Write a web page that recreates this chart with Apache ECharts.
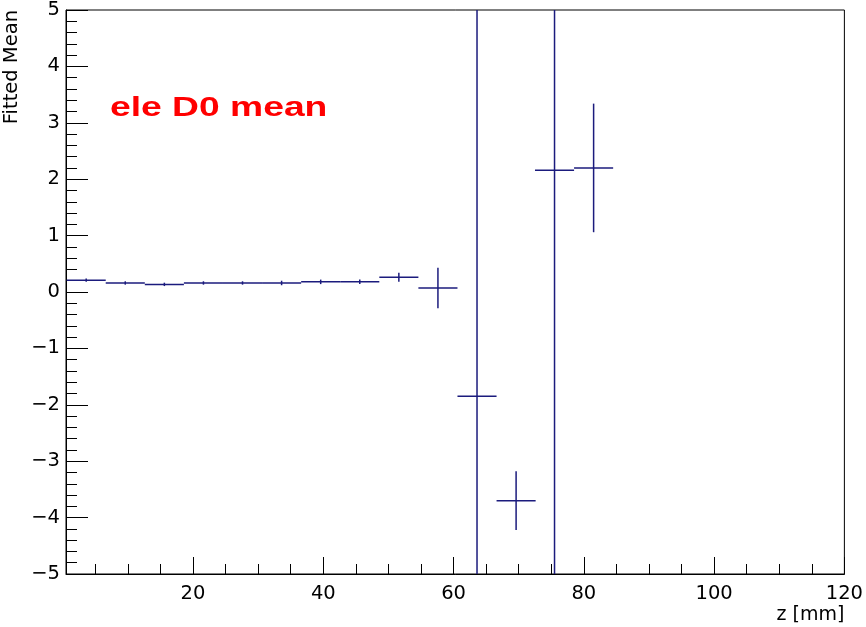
<!DOCTYPE html>
<html>
<head>
<meta charset="utf-8">
<script src="https://cdn.jsdelivr.net/npm/echarts@6/dist/echarts.min.js"></script>
<style>
html,body{margin:0;padding:0;background:#fff;}
#chart{width:866px;height:627px;}
</style>
</head>
<body>
<div id="chart"></div>
<script>
// ---- data ----
const xCenters   = [3.6, 9.6, 15.6, 21.6, 27.6, 33.6, 39.6, 45.6, 51.6, 57.6, 63.6, 69.6, 75.5, 81.5];
const xHalfWidth = [3, 3, 3, 3, 3, 3, 3, 3, 3, 3, 3, 3, 3, 3];
const fittedMean = [0.21, 0.16, 0.135, 0.16, 0.16, 0.16, 0.18, 0.18, 0.26, 0.07, -1.85, -3.70, 2.16, 2.20];
const meanError  = [0.03, 0.03, 0.03, 0.03, 0.03, 0.04, 0.04, 0.04, 0.08, 0.36, 9.0, 0.52, 9.0, 1.14];
const xMajorTicks = [20, 40, 60, 80, 100, 120];
const xMinorTicks = [5, 10, 15, 25, 30, 35, 45, 50, 55, 65, 70, 75, 85, 90, 95, 105, 110, 115];

const FONT = 'DejaVu Sans';
const LINE_COLOR = '#1b1b7d';

const seriesData = xCenters.map((x, i) => [x, fittedMean[i], xHalfWidth[i], meanError[i]]);

function clamp(v, a, b) { return Math.max(a, Math.min(b, v)); }

function renderItem(params, api) {
  const cs = params.coordSys;
  const x = api.value(0), y = api.value(1), hw = api.value(2), e = api.value(3);
  const l = api.coord([x - hw, y]);
  const r = api.coord([x + hw, y]);
  const t = api.coord([x, y + e]);
  const b = api.coord([x, y - e]);
  const x0 = cs.x, x1 = cs.x + cs.width, y0 = cs.y, y1 = cs.y + cs.height;
  const style = { stroke: LINE_COLOR, lineWidth: 1.5 };
  return {
    type: 'group',
    children: [
      { type: 'line', shape: { x1: clamp(l[0], x0, x1), y1: l[1], x2: clamp(r[0], x0, x1), y2: r[1] }, style: style },
      { type: 'line', shape: { x1: t[0], y1: clamp(t[1], y0, y1), x2: b[0], y2: clamp(b[1], y0, y1) }, style: style }
    ]
  };
}

const chart = echarts.init(document.getElementById('chart'), null, { renderer: 'canvas' });
chart.setOption({
  animation: false,
  backgroundColor: '#ffffff',
  grid: {
    left: 66, right: 17, top: 9, bottom: 53,
    show: true, borderColor: '#000', borderWidth: 1, backgroundColor: 'transparent'
  },
  graphic: [{
    type: 'text',
    x: 110, y: 94,
    scaleX: 1.33,
    style: {
      text: 'ele D0 mean',
      font: 'bold 28px "Liberation Sans", Arial, sans-serif',
      fill: '#ff0000',
      verticalAlign: 'top'
    }
  }],
  xAxis: [{
    type: 'value',
    min: 0.5, max: 120,
    position: 'bottom',
    name: 'z [mm]',
    nameLocation: 'end',
    nameGap: 0,
    nameTextStyle: { fontFamily: FONT, fontSize: 19, color: '#000', align: 'right', verticalAlign: 'top', padding: [32, 0, 0, 0] },
    axisLine: { show: true, onZero: false, lineStyle: { color: '#000', width: 1 } },
    axisTick: { show: true, inside: true, length: 17, customValues: xMajorTicks, lineStyle: { color: '#000', width: 1 } },
    axisLabel: { show: true, customValues: xMajorTicks, fontFamily: FONT, fontSize: 19.5, color: '#000', margin: 10 },
    splitLine: { show: false }
  }, {
    type: 'value',
    min: 0.5, max: 120,
    position: 'bottom',
    axisLine: { show: false, onZero: false },
    axisTick: { show: true, inside: true, length: 10, customValues: xMinorTicks, lineStyle: { color: '#000', width: 1 } },
    axisLabel: { show: false },
    splitLine: { show: false }
  }],
  yAxis: {
    type: 'value',
    min: -5, max: 5, interval: 1,
    name: 'Fitted Mean',
    nameLocation: 'end',
    nameRotate: 90,
    nameGap: 0,
    nameTextStyle: { fontFamily: FONT, fontSize: 19.5, color: '#000', align: 'right', verticalAlign: 'bottom', padding: [0, 0, 44, 0] },
    axisLine: { show: true, onZero: false, lineStyle: { color: '#000', width: 1 } },
    axisTick: { show: true, inside: true, length: 22, lineStyle: { color: '#000', width: 1 } },
    minorTick: { show: true, splitNumber: 5, length: 11, lineStyle: { color: '#000', width: 1 } },
    axisLabel: {
      fontFamily: FONT, fontSize: 19.5, color: '#000', margin: 6,
      formatter: v => String(v).replace('-', '\u2212')
    },
    splitLine: { show: false },
    minorSplitLine: { show: false }
  },
  series: [{
    type: 'custom',
    xAxisIndex: 0,
    yAxisIndex: 0,
    renderItem: renderItem,
    data: seriesData,
    clip: true,
    silent: true
  }]
});
</script>
</body>
</html>
